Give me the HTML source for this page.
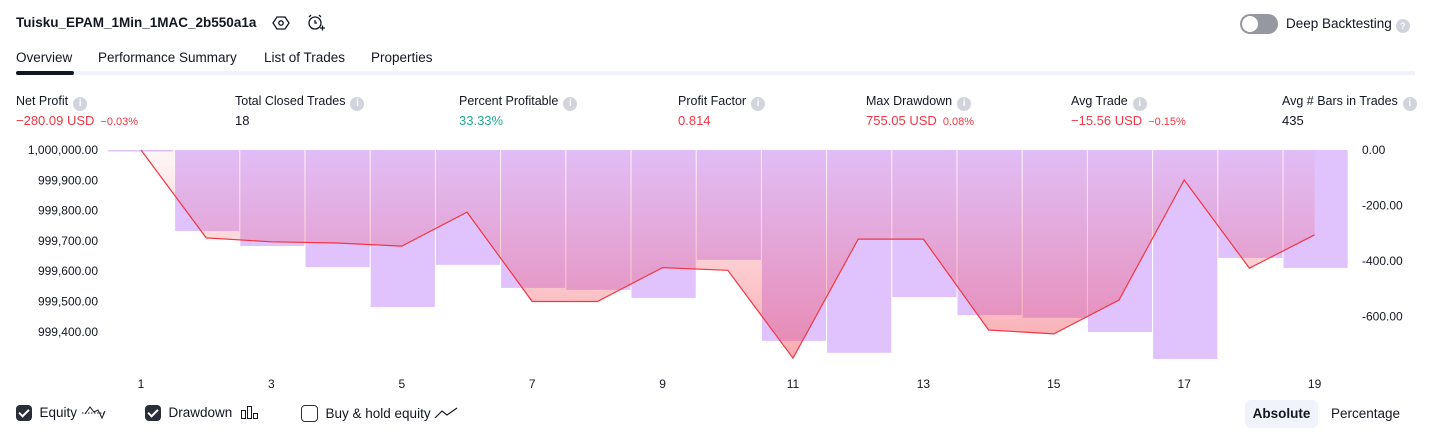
<!DOCTYPE html>
<html><head><meta charset="utf-8">
<style>
body{margin:0;width:1431px;height:438px;background:#fff;font-family:"Liberation Sans",sans-serif;color:#131722;position:relative;overflow:hidden}
.a{position:absolute;white-space:nowrap}
.lbl{font-size:12.5px;color:#131722}
.info{display:inline-block;width:14px;height:14px;border-radius:50%;background:#d1d4dc;color:#fff;font-size:10px;text-align:center;line-height:14px;vertical-align:-1px;margin-left:5px;font-weight:bold}
.val{font-size:13px}
.red{color:#f23645}.sm{font-size:11px;margin-left:6px}
.tab{font-size:13.5px}
.cb{display:inline-block;width:16px;height:16px;border-radius:4px;background:#2a2e39;vertical-align:-4px;position:relative}
.cb:after{content:"";position:absolute;left:5px;top:2px;width:4px;height:8px;border:solid #fff;border-width:0 2px 2px 0;transform:rotate(45deg)}
</style></head><body>
<div class="a" style="left:16px;top:15px;font-size:13.5px;font-weight:bold">Tuisku_EPAM_1Min_1MAC_2b550a1a</div>
<svg class="a" style="left:272px;top:14px" width="18" height="18" viewBox="0 0 18 18"><polygon points="5,3 13,3 17,9 13,15 5,15 1,9" fill="none" stroke="#131722" stroke-width="1.3"/><circle cx="9" cy="9" r="2.2" fill="none" stroke="#131722" stroke-width="1.3"/></svg>
<svg class="a" style="left:306px;top:13px" width="20" height="20" viewBox="0 0 20 20"><circle cx="9" cy="10" r="6" fill="none" stroke="#131722" stroke-width="1.3"/><path d="M9 7v3h2M3 4l2-2M15 4l-2-2M14 15h5M16.5 12.5v5" stroke="#131722" stroke-width="1.3" fill="none"/></svg>
<div class="a" style="left:1240px;top:14px;width:38px;height:20px;border-radius:10px;background:#9598a1"><div style="position:absolute;left:2px;top:2px;width:16px;height:16px;border-radius:50%;background:#fff"></div></div>
<div class="a" style="left:1286px;top:16px;font-size:13.5px">Deep Backtesting<span class="info" style="font-size:9px;margin-left:4px">?</span></div>
<div class="a tab" style="left:16px;top:50px">Overview</div>
<div class="a tab" style="left:98px;top:50px">Performance Summary</div>
<div class="a tab" style="left:264px;top:50px">List of Trades</div>
<div class="a tab" style="left:371px;top:50px">Properties</div>
<div class="a" style="left:16px;top:71px;width:1399px;height:4px;background:#f0f3fa"></div>
<div class="a" style="left:16px;top:71px;width:58px;height:4px;border-radius:2px;background:#131722"></div>

<div class="a lbl" style="left:16px;top:94px">Net Profit<span class="info">i</span></div>
<div class="a val red" style="left:16px;top:113px">−280.09 USD<span class="sm">−0.03%</span></div>
<div class="a lbl" style="left:235px;top:94px">Total Closed Trades<span class="info">i</span></div>
<div class="a val" style="left:235px;top:113px">18</div>
<div class="a lbl" style="left:459px;top:94px">Percent Profitable<span class="info">i</span></div>
<div class="a val" style="left:459px;top:113px;color:#22ab94">33.33%</div>
<div class="a lbl" style="left:678px;top:94px">Profit Factor<span class="info">i</span></div>
<div class="a val red" style="left:678px;top:113px">0.814</div>
<div class="a lbl" style="left:866px;top:94px">Max Drawdown<span class="info">i</span></div>
<div class="a val red" style="left:866px;top:113px">755.05 USD<span class="sm">0.08%</span></div>
<div class="a lbl" style="left:1071px;top:94px">Avg Trade<span class="info">i</span></div>
<div class="a val red" style="left:1071px;top:113px">−15.56 USD<span class="sm">−0.15%</span></div>
<div class="a lbl" style="left:1282px;top:94px">Avg # Bars in Trades<span class="info">i</span></div>
<div class="a val" style="left:1282px;top:113px">435</div>

<svg class="a" id="chart" style="left:0;top:0" width="1431" height="395"></svg>

<div class="a" style="left:16px;top:405px;font-size:13.5px"><span class="cb"></span> &nbsp;Equity <svg width="26" height="14" style="vertical-align:-2px"><path d="M1 8H25" stroke="#131722" stroke-dasharray="1.5 1.5"/><path d="M4 9L9 2L13 7L17 5L21 13L24 6" fill="none" stroke="#131722" stroke-width="1"/></svg></div>
<div class="a" style="left:145px;top:405px;font-size:13.5px"><span class="cb"></span> &nbsp;Drawdown &nbsp;<svg width="20" height="14" style="vertical-align:-2px"><rect x="1.5" y="5.5" width="4" height="8" fill="none" stroke="#131722"/><rect x="7.5" y="1.5" width="4" height="12" fill="none" stroke="#131722"/><rect x="13.5" y="8.5" width="4" height="5" fill="none" stroke="#131722"/></svg></div>
<div class="a" style="left:301px;top:405px;font-size:13.5px"><span style="display:inline-block;width:15px;height:15px;border:1px solid #2a2e39;border-radius:4px;vertical-align:-4px"></span> &nbsp;Buy &amp; hold equity <svg width="24" height="12" style="vertical-align:-1px"><path d="M1 11L8 4L13 8L23 1" fill="none" stroke="#131722" stroke-width="1.2"/></svg></div>
<div class="a" style="left:1245px;top:400px;width:73px;height:28px;background:#f0f3fa;border-radius:6px;font-size:13.5px;font-weight:bold;text-align:center;line-height:28px">Absolute</div>
<div class="a" style="left:1331px;top:406px;font-size:13.5px">Percentage</div>

<script>
const trades=[1,2,3,4,5,6,7,8,9,10,11,12,13,14,15,16,17,18,19];
const equity=[1000000,999710,999697,999693,999683,999795,999500,999500,999612,999603,999313,999706,999706,999406,999393,999505,999901,999610,999720];
const drawdown=[0,-292,-346,-422,-566,-414,-497,-504,-533,-396,-688,-731,-530,-595,-605,-656,-753,-389,-425];
const leftTicks=[1000000,999900,999800,999700,999600,999500,999400];
const rightTicks=[0,-200,-400,-600];
const xTicks=[1,3,5,7,9,11,13,15,17,19];
const NS="http://www.w3.org/2000/svg";
const svg=document.getElementById('chart');
const X=i=>141+(i-1)*65.2;
const YL=v=>150+(1000000-v)*0.303;
const YR=v=>150-v*0.2775;
function mk(t,a){const e=document.createElementNS(NS,t);for(const k in a)e.setAttribute(k,a[k]);svg.appendChild(e);return e;}
const defs=mk('defs',{});
defs.innerHTML='<linearGradient id="eg" gradientUnits="userSpaceOnUse" x1="0" y1="150" x2="0" y2="360"><stop offset="0" stop-color="#f23645" stop-opacity="0.04"/><stop offset="1" stop-color="#f23645" stop-opacity="0.42"/></linearGradient>';
const bw=65.2;
drawdown.forEach((d,i)=>{
  const x=X(trades[i]);const h=Math.max(YR(d)-150,1.5);
  const r=mk('rect',{x:(i===0?108:x-bw/2+1.5),y:150,width:(i===0?65:bw-1),height:h,fill:'#e0c3fd'});
  
  
});
let pts=trades.map((t,i)=>X(t).toFixed(1)+','+YL(equity[i]).toFixed(1)).join(' ');
const area=mk('polygon',{points:X(1)+',150 '+pts+' '+X(19)+',150',fill:'url(#eg)'});


const line=mk('polyline',{points:pts,fill:'none',stroke:'#f23645','stroke-width':1.2});


leftTicks.forEach(v=>{const t=mk('text',{x:98,y:YL(v)+4,'text-anchor':'end','font-size':12,fill:'#131722'});t.textContent=v.toLocaleString('en-US',{minimumFractionDigits:2});

});
rightTicks.forEach(v=>{const t=mk('text',{x:1362,y:YR(v)+4,'font-size':12,fill:'#131722'});t.textContent=(v===0?'0.00':v.toFixed(2));

});
xTicks.forEach(v=>{const t=mk('text',{x:X(v),y:388,'text-anchor':'middle','font-size':12,fill:'#131722'});t.textContent=v;

});
</script>
</body></html>
